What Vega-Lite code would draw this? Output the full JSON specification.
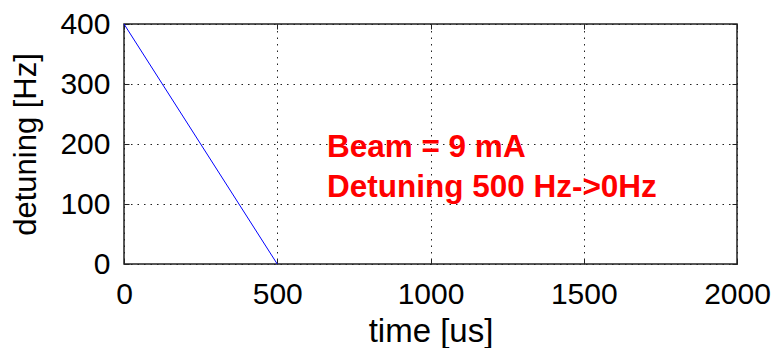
{
  "$schema": "https://vega.github.io/schema/vega-lite/v6.json",
  "width": 613,
  "height": 240,
  "autosize": {"type": "none"},
  "padding": {"left": 124, "top": 24, "right": 39, "bottom": 84},
  "background": "white",
  "config": {
    "view": {"stroke": "#222", "strokeWidth": 1.5},
    "font": "Liberation Sans",
    "axis": {
      "labelFont": "Liberation Sans",
      "titleFont": "Liberation Sans",
      "labelFontSize": 30,
      "titleFontSize": 31,
      "titleFontWeight": "normal",
      "labelColor": "#000",
      "titleColor": "#000",
      "domain": false,
      "tickColor": "#222",
      "tickSize": -5,
      "gridColor": "#222",
      "gridDash": [1.5, 5],
      "gridWidth": 1,
      "gridOpacity": 1
    }
  },
  "resolve": {"axis": {"x": "independent", "y": "independent"}},
  "layer": [
    {
      "data": {"values": [{"time": 0, "detuning": 400}, {"time": 500, "detuning": 0}]},
      "mark": {"type": "line", "color": "#0000ff", "strokeWidth": 1},
      "encoding": {
        "x": {"field": "time", "type": "quantitative", "scale": {"domain": [0, 2000], "nice": false},
              "axis": {"title": "time [us]", "titleFontSize": 33, "format": "d", "values": [0, 500, 1000, 1500, 2000], "labelPadding": 20, "titlePadding": 6, "grid": true, "labelFlush": false}},
        "y": {"field": "detuning", "type": "quantitative", "scale": {"domain": [0, 400], "nice": false},
              "axis": {"title": "detuning [Hz]", "format": "d", "values": [0, 100, 200, 300, 400], "labelPadding": 19, "titlePadding": 17, "grid": true, "labelFlush": false}}
      }
    },
    {
      "data": {"values": [
        {"label": "Beam = 9 mA", "time": 662, "detuning": 178},
        {"label": "Detuning 500 Hz->0Hz", "time": 662, "detuning": 112}
      ]},
      "mark": {"type": "text", "align": "left", "baseline": "alphabetic", "color": "#ff0000", "fontSize": 31.5, "fontWeight": "bold", "font": "Liberation Sans"},
      "encoding": {
        "x": {"field": "time", "type": "quantitative", "axis": {"orient": "top", "labels": false, "title": null, "grid": false, "values": [0, 500, 1000, 1500, 2000]}},
        "y": {"field": "detuning", "type": "quantitative", "axis": {"orient": "right", "labels": false, "title": null, "grid": false, "values": [0, 100, 200, 300, 400]}},
        "text": {"field": "label"}
      }
    }
  ]
}
